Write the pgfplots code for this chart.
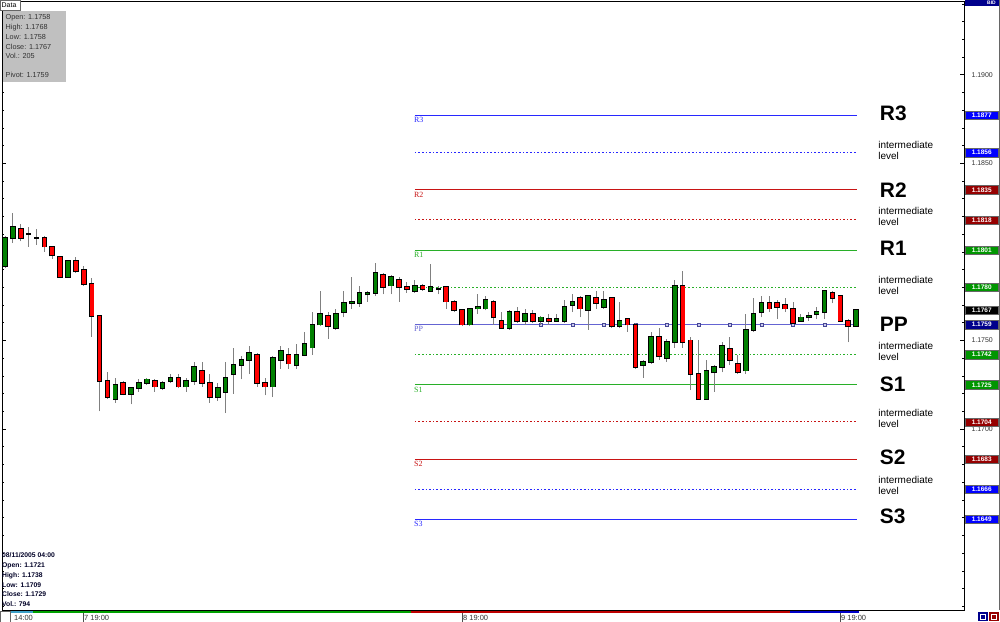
\documentclass[border=0pt]{standalone}
\usepackage{pgfplots}
\pgfplotsset{compat=1.18}
\usepackage{pgfplotstable}
\usepackage{fontspec}
\setmainfont{Liberation Sans}
\newfontfamily\serifx{Liberation Serif}

\definecolor{cgreen}{RGB}{0,128,0}
\definecolor{cred}{RGB}{255,0,0}
\definecolor{wick}{RGB}{128,128,128}
\definecolor{lblue}{RGB}{40,40,255}
\definecolor{lred}{RGB}{200,20,20}
\definecolor{lgreen}{RGB}{40,175,40}
\definecolor{ppblue}{RGB}{100,100,210}
\definecolor{boxblue}{RGB}{0,0,255}
\definecolor{boxred}{RGB}{150,0,0}
\definecolor{boxgreen}{RGB}{0,150,0}
\definecolor{boxnavy}{RGB}{0,0,140}
\definecolor{panelgray}{RGB}{192,192,192}
\definecolor{txtgray}{RGB}{50,50,50}
\definecolor{barteal}{RGB}{60,160,200}
\definecolor{bargreen}{RGB}{0,160,0}
\definecolor{barred}{RGB}{190,0,0}
\definecolor{barblue}{RGB}{0,0,200}

% bullish candles (close >= open)
\pgfplotstableread{
x o h l c
0 1.1792 1.1809 1.1791 1.1808
1 1.1808 1.1822 1.1805 1.1814
3 1.1810 1.1814 1.1803 1.1810
4 1.1808 1.1813 1.1804 1.1808
8 1.1786 1.1795 1.1786 1.1795
14 1.1717 1.1729 1.1715 1.1725
16 1.1720 1.1724 1.1714 1.1723
17 1.1723 1.1728 1.1721 1.1726
18 1.1726 1.1729 1.1725 1.1728
20 1.1723 1.1727 1.1722 1.1726
21 1.1727 1.1731 1.1726 1.1729
23 1.1724 1.1729 1.1721 1.1727
24 1.1727 1.1738 1.1725 1.1735
27 1.1718 1.1726 1.1716 1.1723
28 1.1721 1.1738 1.1709 1.1729
29 1.1731 1.1746 1.1720 1.1736
30 1.1736 1.1741 1.1728 1.1739
31 1.1739 1.1747 1.1731 1.1743
34 1.1724 1.1741 1.1718 1.1740
35 1.1739 1.1747 1.1734 1.1744
37 1.1736 1.1748 1.1734 1.1742
38 1.1742 1.1755 1.1741 1.1748
39 1.1746 1.1766 1.1742 1.1759
40 1.1759 1.1778 1.1758 1.1765
42 1.1757 1.1768 1.1756 1.1765
43 1.1766 1.1778 1.1763 1.1771
44 1.1771 1.1786 1.1768 1.1772
45 1.1771 1.1781 1.1769 1.1777
46 1.1776 1.1778 1.1772 1.1777
47 1.1777 1.1794 1.1775 1.1788
49 1.1781 1.1787 1.1776 1.1786
52 1.1778 1.1784 1.1777 1.1781
54 1.1778 1.1793 1.1778 1.1780
55 1.1779 1.1781 1.1776 1.1779
59 1.1759 1.1768 1.1758 1.1768
60 1.1768 1.1776 1.1765 1.1769
61 1.1768 1.1775 1.1767 1.1773
64 1.1757 1.1767 1.1756 1.1766
66 1.1761 1.1768 1.1759 1.1765
68 1.1761 1.1764 1.1759 1.1763
70 1.1761 1.1765 1.1761 1.1762
71 1.1761 1.1773 1.1760 1.1769
72 1.1770 1.1776 1.1766 1.1772
74 1.1767 1.1775 1.1756 1.1775
76 1.1769 1.1778 1.1768 1.1773
78 1.1758 1.1772 1.1757 1.1761
81 1.1736 1.1739 1.1729 1.1738
82 1.1738 1.1755 1.1737 1.1752
84 1.1740 1.1751 1.1738 1.1749
85 1.1749 1.1784 1.1746 1.1781
89 1.1717 1.1739 1.1717 1.1733
90 1.1732 1.1736 1.1721 1.1735
91 1.1735 1.1749 1.1732 1.1747
94 1.1733 1.1765 1.1731 1.1756
95 1.1756 1.1774 1.1755 1.1765
96 1.1766 1.1775 1.1763 1.1771
101 1.1761 1.1765 1.1761 1.1763
102 1.1763 1.1766 1.1761 1.1764
103 1.1765 1.1769 1.1762 1.1766
104 1.1766 1.1778 1.1762 1.1778
108 1.1758 1.1768 1.1758 1.1767
}\bull

% bearish candles (close < open)
\pgfplotstableread{
x o h l c
2 1.1813 1.1816 1.1806 1.1808
5 1.1808 1.1809 1.1800 1.1803
6 1.1803 1.1803 1.1796 1.1798
7 1.1797 1.1797 1.1785 1.1786
9 1.1795 1.1797 1.1788 1.1789
10 1.1790 1.1792 1.1781 1.1782
11 1.1782 1.1785 1.1752 1.1764
12 1.1764 1.1764 1.1710 1.1727
13 1.1727 1.1732 1.1717 1.1718
15 1.1726 1.1727 1.1719 1.1720
19 1.1727 1.1728 1.1721 1.1724
22 1.1729 1.1731 1.1723 1.1724
25 1.1733 1.1738 1.1724 1.1726
26 1.1726 1.1731 1.1715 1.1718
32 1.1742 1.1743 1.1724 1.1726
33 1.1726 1.1729 1.1719 1.1724
36 1.1742 1.1746 1.1734 1.1737
41 1.1764 1.1766 1.1751 1.1758
48 1.1787 1.1788 1.1776 1.1780
50 1.1784 1.1786 1.1772 1.1780
51 1.1780 1.1783 1.1777 1.1779
53 1.1781 1.1782 1.1778 1.1779
56 1.1780 1.1781 1.1768 1.1772
57 1.1772 1.1773 1.1766 1.1767
58 1.1767 1.1768 1.1758 1.1759
62 1.1772 1.1773 1.1759 1.1763
63 1.1761 1.1766 1.1757 1.1757
65 1.1766 1.1769 1.1760 1.1761
67 1.1765 1.1767 1.1760 1.1761
69 1.1762 1.1765 1.1759 1.1761
73 1.1774 1.1775 1.1763 1.1768
75 1.1774 1.1778 1.1768 1.1771
77 1.1774 1.1774 1.1757 1.1758
79 1.1762 1.1762 1.1755 1.1759
80 1.1759 1.1760 1.1734 1.1735
83 1.1752 1.1757 1.1739 1.1741
86 1.1781 1.1789 1.1746 1.1749
87 1.1750 1.1752 1.1722 1.1731
88 1.1731 1.1750 1.1717 1.1717
92 1.1745 1.1752 1.1736 1.1739
93 1.1737 1.1742 1.1731 1.1732
97 1.1771 1.1775 1.1766 1.1768
98 1.1771 1.1773 1.1762 1.1769
99 1.1770 1.1774 1.1766 1.1768
100 1.1768 1.1772 1.1760 1.1760
105 1.1777 1.1778 1.1771 1.1774
106 1.1775 1.1775 1.1761 1.1761
107 1.1761 1.1762 1.1749 1.1758
}\bear

\tikzset{
  bigl/.style={anchor=west, inner sep=0pt, font=\fontsize{21}{21}\selectfont\bfseries},
  midl/.style={anchor=west, inner sep=0pt, align=left, font=\fontsize{10}{11}\selectfont},
  smalll/.style={anchor=north west, inner sep=0pt, yshift=-2bp, font=\serifx\fontsize{8}{8}\selectfont},
  boxbase/.style={draw=black!60, line width=0.4bp, text=white,
    font=\fontsize{6.5}{7}\selectfont\bfseries, minimum width=33bp,
    minimum height=8.5bp, inner sep=0pt, anchor=west, xshift=1bp},
}

\begin{document}
\begin{tikzpicture}[x=1bp,y=1bp]
\begin{axis}[
  name=ax,
  scale only axis, width=962bp, height=609bp,
  xmin=-0.381, xmax=121.70,
  ymin=1.15979, ymax=1.19416,
  clip mode=individual,
  axis line style={black, line width=0.8bp},
  xtick=\empty,
  ytick={1.17,1.175,1.185,1.19},
  minor ytick={1.160,1.161,...,1.194},
  ytick pos=both, yticklabel pos=right,
  tick align=inside,
  major tick length=4bp, minor tick length=2.5bp,
  every tick/.style={black, line width=0.6bp},
  scaled y ticks=false,
  yticklabel style={font=\fontsize{7}{8}\selectfont, text=txtgray, anchor=west, xshift=4bp,
    /pgf/number format/.cd, fixed, fixed zerofill, precision=4, assume math mode=true},
]
\coordinate (SW) at (rel axis cs:0,0);
% ---- pivot levels
\addplot[draw=lblue, line width=1.1bp] coordinates {(52,1.1877) (108.1,1.1877)};
\addplot[draw=lblue, line width=1bp, dash pattern=on 1.6bp off 2bp] coordinates {(52,1.1856) (108.1,1.1856)};
\addplot[draw=lred, line width=1.1bp] coordinates {(52,1.1835) (108.1,1.1835)};
\addplot[draw=lred, line width=1bp, dash pattern=on 1.6bp off 2bp] coordinates {(52,1.1818) (108.1,1.1818)};
\addplot[draw=lgreen, line width=1.1bp] coordinates {(52,1.1801) (108.1,1.1801)};
\addplot[draw=lgreen, line width=1bp, dash pattern=on 1.6bp off 2bp] coordinates {(52,1.1780) (108.1,1.1780)};
\addplot[draw=ppblue, line width=1.6bp] coordinates {(52,1.1759) (108.1,1.1759)};
\addplot[draw=lgreen, line width=1bp, dash pattern=on 1.6bp off 2bp] coordinates {(52,1.1742) (108.1,1.1742)};
\addplot[draw=lgreen, line width=1.1bp] coordinates {(52,1.1725) (108.1,1.1725)};
\addplot[draw=lred, line width=1bp, dash pattern=on 1.6bp off 2bp] coordinates {(52,1.1704) (108.1,1.1704)};
\addplot[draw=lred, line width=1.1bp] coordinates {(52,1.1683) (108.1,1.1683)};
\addplot[draw=lblue, line width=1bp, dash pattern=on 1.6bp off 2bp] coordinates {(52,1.1666) (108.1,1.1666)};
\addplot[draw=lblue, line width=1.1bp] coordinates {(52,1.1649) (108.1,1.1649)};
\addplot[only marks, mark=square*, mark size=1.6bp,
  mark options={draw=ppblue!70!black, fill=ppblue!35, line width=0.5bp}]
  coordinates {(64,1.1759) (68,1.1759) (72,1.1759) (76,1.1759) (80,1.1759) (84,1.1759)
   (88,1.1759) (92,1.1759) (96,1.1759) (100,1.1759) (104,1.1759) (108,1.1759)};

% ---- wicks
\addplot[draw=none, error bars/.cd, y dir=plus, y explicit, error mark=none,
  error bar style={draw=wick, line width=1bp, solid}]
  table[x=x, y=l, y error expr=\thisrow{h}-\thisrow{l}] {\bull};
\addplot[draw=none, error bars/.cd, y dir=plus, y explicit, error mark=none,
  error bar style={draw=wick, line width=1bp, solid}]
  table[x=x, y=l, y error expr=\thisrow{h}-\thisrow{l}] {\bear};
% ---- body outlines
\addplot[draw=none, error bars/.cd, y dir=plus, y explicit, error mark=none,
  error bar style={draw=black, line width=5.6bp, solid}]
  table[x=x, y expr=\thisrow{o}-0.00005, y error expr=\thisrow{c}-\thisrow{o}+0.0001] {\bull};
\addplot[draw=none, error bars/.cd, y dir=plus, y explicit, error mark=none,
  error bar style={draw=black, line width=5.6bp, solid}]
  table[x=x, y expr=\thisrow{c}-0.00005, y error expr=\thisrow{o}-\thisrow{c}+0.0001] {\bear};
% ---- body fills
\addplot[draw=none, error bars/.cd, y dir=plus, y explicit, error mark=none,
  error bar style={draw=cgreen, line width=3.7bp, solid}]
  table[x=x, y=o, y error expr=\thisrow{c}-\thisrow{o}] {\bull};
\addplot[draw=none, error bars/.cd, y dir=plus, y explicit, error mark=none,
  error bar style={draw=cred, line width=3.7bp, solid}]
  table[x=x, y=c, y error expr=\thisrow{o}-\thisrow{c}] {\bear};

% ---- small level names
\node[smalll, text=lblue] at (axis cs:51.9,1.1877) {R3};
\node[smalll, text=lred] at (axis cs:51.9,1.1835) {R2};
\node[smalll, text=lgreen] at (axis cs:51.9,1.1801) {R1};
\node[smalll, text=ppblue] at (axis cs:51.9,1.1759) {PP};
\node[smalll, text=lgreen] at (axis cs:51.9,1.1725) {S1};
\node[smalll, text=lred] at (axis cs:51.9,1.1683) {S2};
\node[smalll, text=lblue] at (axis cs:51.9,1.1649) {S3};

% ---- big labels
\node[bigl] at (axis cs:111.0,1.1878) {R3};
\node[bigl] at (axis cs:111.0,1.1835) {R2};
\node[bigl] at (axis cs:111.0,1.1802) {R1};
\node[bigl] at (axis cs:111.0,1.1759) {PP};
\node[bigl] at (axis cs:111.0,1.1725) {S1};
\node[bigl] at (axis cs:111.0,1.1684) {S2};
\node[bigl] at (axis cs:111.0,1.1651) {S3};
\node[midl] at (axis cs:110.8,1.1857) {intermediate\\level};
\node[midl] at (axis cs:110.8,1.1820) {intermediate\\level};
\node[midl] at (axis cs:110.8,1.1781) {intermediate\\level};
\node[midl] at (axis cs:110.8,1.1744) {intermediate\\level};
\node[midl] at (axis cs:110.8,1.1706) {intermediate\\level};
\node[midl] at (axis cs:110.8,1.1668) {intermediate\\level};

% ---- price boxes on the right scale
\node[boxbase, fill=boxblue] at (axis cs:121.70,1.1877) {1.1877};
\node[boxbase, fill=boxblue] at (axis cs:121.70,1.1856) {1.1856};
\node[boxbase, fill=boxred] at (axis cs:121.70,1.1835) {1.1835};
\node[boxbase, fill=boxred] at (axis cs:121.70,1.1818) {1.1818};
\node[boxbase, fill=boxgreen] at (axis cs:121.70,1.1801) {1.1801};
\node[boxbase, fill=boxgreen] at (axis cs:121.70,1.1780) {1.1780};
\node[boxbase, fill=black] at (axis cs:121.70,1.1767) {1.1767};
\node[boxbase, fill=boxnavy] at (axis cs:121.70,1.1759) {1.1759};
\node[boxbase, fill=boxgreen] at (axis cs:121.70,1.1742) {1.1742};
\node[boxbase, fill=boxgreen] at (axis cs:121.70,1.1725) {1.1725};
\node[boxbase, fill=boxred] at (axis cs:121.70,1.1704) {1.1704};
\node[boxbase, fill=boxred] at (axis cs:121.70,1.1683) {1.1683};
\node[boxbase, fill=boxblue] at (axis cs:121.70,1.1666) {1.1666};
\node[boxbase, fill=boxblue] at (axis cs:121.70,1.1649) {1.1649};
\end{axis}

\pgfresetboundingbox
\begin{scope}[shift={(SW)}, shift={(-2,-12)}]
\useasboundingbox (0,0) rectangle (1000,622);
% ---- right panel frame and BID header
\draw[black!60, line width=0.6bp] (999,12) -- (999,622);
\fill[boxnavy] (965,616) rectangle (999,622);
\node[anchor=east, inner sep=0pt, text=white, font=\fontsize{5}{5}\selectfont\bfseries] at (996,619) {BID};

% ---- top-left data panel
\draw[black!60, fill=white, line width=0.5bp] (0.5,612) rectangle (20,621.5);
\node[anchor=west, inner sep=0pt, font=\fontsize{7}{7}\selectfont] at (1.5,616.8) {Data};
\fill[panelgray] (3,540) rectangle (66,611);
\begin{scope}[every node/.style={anchor=west, inner sep=0pt, text=txtgray, font=\fontsize{7.3}{7.3}\selectfont}]
\node at (5.5,604) {Open: 1.1758};
\node at (5.5,594.5) {High: 1.1768};
\node at (5.5,585) {Low: 1.1758};
\node at (5.5,575.5) {Close: 1.1767};
\node at (5.5,566) {Vol.: 205};
\node at (5.5,547) {Pivot: 1.1759};
\end{scope}

% ---- bottom-left bar info
\begin{scope}[every node/.style={anchor=west, inner sep=0pt, text=black!85!blue, font=\fontsize{6.8}{6.8}\selectfont\bfseries}]
\node at (2,67) {08/11/2005 04:00};
\node at (2,56) {Open: 1.1721};
\node at (2,46.5) {High: 1.1738};
\node at (2,37) {Low: 1.1709};
\node at (2,27.5) {Close: 1.1729};
\node at (2,18) {Vol.: 794};
\end{scope}

% ---- bottom time strip
\fill[barteal] (10,9) rectangle (33,11);
\fill[bargreen] (33,9) rectangle (411,11);
\fill[barred] (411,9) rectangle (790,11);
\fill[barblue] (790,9) rectangle (859,11);
\draw[black!60, line width=0.5bp, fill=white] (0.5,0) rectangle (10,11);
\draw[black!70, line width=0.6bp] (83,0) -- (83,9);
\draw[black!70, line width=0.6bp] (462,0) -- (462,9);
\draw[black!70, line width=0.6bp] (840,0) -- (840,9);
\begin{scope}[every node/.style={anchor=west, inner sep=0pt, text=txtgray, font=\fontsize{7.5}{7.5}\selectfont}]
\node at (14,4.5) {14:00};
\node at (84,4.5) {7 19:00};
\node at (463,4.5) {8 19:00};
\node at (841,4.5) {9 19:00};
\end{scope}
\fill[boxnavy] (978,1) rectangle (988,10);
\draw[white, line width=0.5bp] (980.5,3) rectangle (985.5,8);
\fill[boxred] (989,1) rectangle (999,10);
\draw[white, line width=0.5bp] (991.5,3) rectangle (996.5,8);
\end{scope}
\end{tikzpicture}
\end{document}
